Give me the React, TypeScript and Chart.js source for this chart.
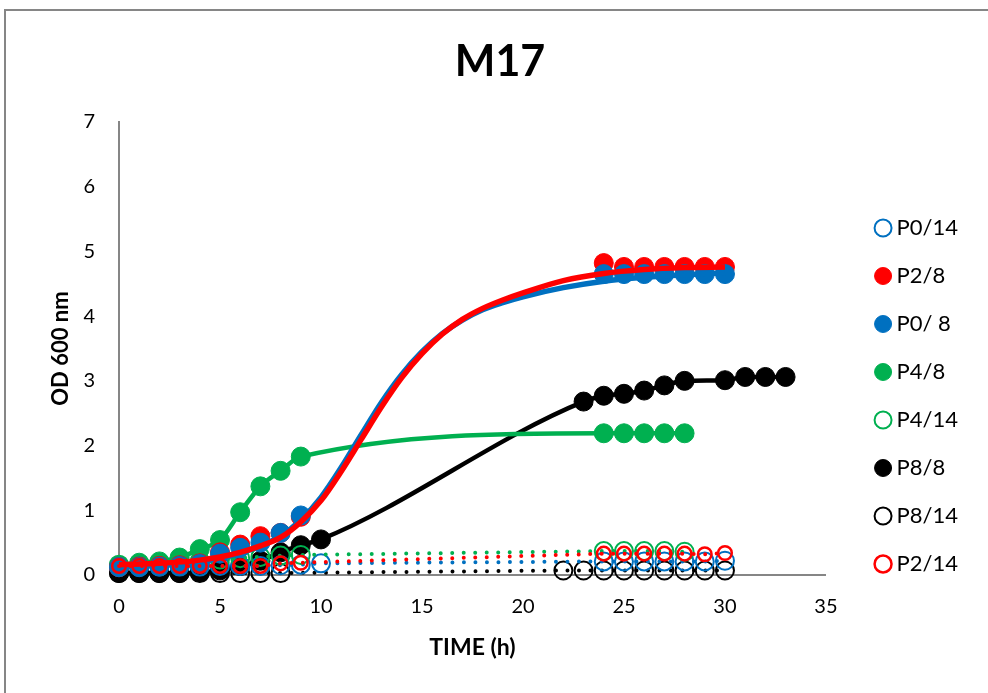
import React, { useEffect, useRef } from "react";
import { Chart, registerables } from "chart.js";

Chart.register(...registerables);

const FONT = "Lato, 'Open Sans', sans-serif";

// ---- Data (time in h, OD 600 nm) ----
const P0_14_TIME = [0, 1, 2, 3, 4, 5, 6, 7, 8, 9, 10, 24, 25, 26, 27, 28, 29, 30];
const P0_14_OD = [0.13, 0.13, 0.13, 0.13, 0.13, 0.14, 0.14, 0.14, 0.15, 0.16, 0.18, 0.21, 0.21, 0.21, 0.21, 0.21, 0.21, 0.22];

const P2_8_TIME = [0, 1, 2, 3, 4, 5, 6, 7, 8, 9, 24, 25, 26, 27, 28, 29, 30];
const P2_8_OD = [0.12, 0.13, 0.14, 0.15, 0.18, 0.35, 0.47, 0.6, 0.65, 0.9, 4.82, 4.76, 4.76, 4.76, 4.76, 4.76, 4.76];

const P0_8_TIME = [0, 1, 2, 3, 4, 5, 6, 7, 8, 9, 24, 25, 26, 27, 28, 29, 30];
const P0_8_OD = [0.12, 0.12, 0.13, 0.14, 0.17, 0.33, 0.42, 0.5, 0.65, 0.92, 4.65, 4.65, 4.65, 4.65, 4.65, 4.65, 4.65];

const P4_8_TIME = [0, 1, 2, 3, 4, 5, 6, 7, 8, 9, 24, 25, 26, 27, 28];
const P4_8_OD = [0.14, 0.19, 0.21, 0.27, 0.4, 0.54, 0.97, 1.37, 1.61, 1.83, 2.19, 2.19, 2.19, 2.19, 2.19];

const P4_14_TIME = [0, 1, 2, 3, 4, 5, 6, 7, 8, 9, 24, 25, 26, 27, 28];
const P4_14_OD = [0.16, 0.17, 0.18, 0.2, 0.22, 0.24, 0.26, 0.28, 0.3, 0.31, 0.37, 0.37, 0.37, 0.37, 0.36];

const P8_8_TIME = [0, 1, 2, 3, 4, 5, 6, 7, 8, 9, 10, 23, 24, 25, 26, 27, 28, 30, 31, 32, 33];
const P8_8_OD = [0.03, 0.03, 0.03, 0.03, 0.04, 0.07, 0.14, 0.22, 0.35, 0.46, 0.55, 2.68, 2.77, 2.8, 2.85, 2.93, 3.0, 3.01, 3.06, 3.06, 3.06];

const P8_14_TIME = [0, 1, 2, 3, 4, 5, 6, 7, 8, 22, 23, 24, 25, 26, 27, 28, 29, 30];
const P8_14_OD = [0.03, 0.03, 0.03, 0.03, 0.03, 0.03, 0.03, 0.03, 0.03, 0.07, 0.07, 0.07, 0.07, 0.07, 0.07, 0.07, 0.07, 0.07];

const P2_14_TIME = [0, 1, 2, 3, 4, 5, 6, 7, 8, 9, 24, 25, 26, 27, 28, 29, 30];
const P2_14_OD = [0.14, 0.14, 0.14, 0.14, 0.14, 0.14, 0.14, 0.14, 0.18, 0.19, 0.33, 0.33, 0.33, 0.33, 0.33, 0.32, 0.34];

// Fitted growth curves
const FIT_TIME = [0, 2, 4, 5, 6, 7, 8, 9, 10, 11, 12, 13, 14, 15, 16, 17, 18, 19, 20, 22, 24, 26, 28, 30];
const P2_8_FIT = [0.16, 0.18, 0.23, 0.28, 0.35, 0.45, 0.58, 0.82, 1.15, 1.6, 2.1, 2.6, 3.05, 3.42, 3.72, 3.95, 4.12, 4.25, 4.36, 4.55, 4.66, 4.72, 4.75, 4.76];
const P0_8_FIT = [0.13, 0.15, 0.2, 0.26, 0.34, 0.45, 0.6, 0.85, 1.2, 1.66, 2.17, 2.67, 3.1, 3.45, 3.73, 3.94, 4.1, 4.21, 4.3, 4.44, 4.54, 4.6, 4.64, 4.67];

const X_TICKS = [0, 5, 10, 15, 20, 25, 30, 35];
const Y_TICKS = [0, 1, 2, 3, 4, 5, 6, 7];

const RED = "#FF0000";
const BLUE = "#0070C0";
const GREEN = "#00B050";
const BLACK = "#000000";
const CLEAR = "rgba(0,0,0,0)";

const zip = (t: number[], v: number[]) => t.map((x, i) => ({ x, y: v[i] }));

const openSeries = (label: string, t: number[], v: number[], color: string, r: number, bw: number, order: number) => ({
  label,
  data: zip(t, v),
  order,
  yAxisID: "y",
  clip: false as const,
  showLine: true,
  borderColor: color,
  borderWidth: 4,
  borderDash: [0, 11.5],
  borderCapStyle: "round" as const,
  pointStyle: "circle" as const,
  pointRadius: r,
  pointBorderWidth: bw,
  pointBorderColor: color,
  pointBackgroundColor: CLEAR,
  backgroundColor: CLEAR,
});

const filledSeries = (label: string, t: number[], v: number[], color: string, order: number, line: number) => ({
  label,
  data: zip(t, v),
  order,
  yAxisID: "y",
  clip: false as const,
  showLine: line > 0,
  borderColor: color,
  borderWidth: line,
  cubicInterpolationMode: "monotone" as const,
  pointStyle: "circle" as const,
  pointRadius: 9.5,
  pointBorderWidth: 1,
  pointBorderColor: color,
  pointBackgroundColor: color,
  backgroundColor: color,
});

const fitSeries = (t: number[], v: number[], color: string, order: number) => ({
  label: "",
  data: zip(t, v),
  order,
  yAxisID: "y",
  clip: false as const,
  showLine: true,
  borderColor: color,
  borderWidth: 5.5,
  cubicInterpolationMode: "monotone" as const,
  pointRadius: 0,
  pointHoverRadius: 0,
  backgroundColor: color,
});

const Y_AXIS_WIDTH = 87;
const X_AXIS_HEIGHT = 118;
const Y2_WIDTH = 28.6;

export default function App() {
  const ref = useRef<HTMLCanvasElement>(null);

  useEffect(() => {
    if (!ref.current) return;
    const datasets: any[] = [
      openSeries("P0/14", P0_14_TIME, P0_14_OD, BLUE, 9, 2, 7),
      filledSeries("P2/8", P2_8_TIME, P2_8_OD, RED, 5, 0),
      filledSeries("P0/ 8", P0_8_TIME, P0_8_OD, BLUE, 4, 0),
      filledSeries("P4/8", P4_8_TIME, P4_8_OD, GREEN, 8, 4.5),
      openSeries("P4/14", P4_14_TIME, P4_14_OD, GREEN, 9, 2, 6),
      filledSeries("P8/8", P8_8_TIME, P8_8_OD, BLACK, 9, 4.5),
      openSeries("P8/14", P8_14_TIME, P8_14_OD, BLACK, 9, 2, 10),
      openSeries("P2/14", P2_14_TIME, P2_14_OD, RED, 6.8, 2.5, 1),
      fitSeries(FIT_TIME, P2_8_FIT, RED, 2),
      fitSeries(FIT_TIME, P0_8_FIT, BLUE, 3),
    ];
    const chart = new Chart(ref.current, {
      type: "line",
      data: { datasets },
      options: {
        animation: false,
        responsive: false,
        maintainAspectRatio: false,
        devicePixelRatio: 1,
        layout: { padding: { left: 32, right: 20, top: 0, bottom: 0 } },
        plugins: {
          tooltip: { enabled: false },
          title: {
            display: true,
            text: "M17",
            color: "#000",
            font: { family: FONT, size: 43, weight: "bold" },
            padding: { top: 36, bottom: 34.4 },
          },
          legend: {
            display: true,
            position: "right",
            align: "center",
            title: { display: true, text: " ", font: { size: 10 }, padding: { top: 87, bottom: 0 } },
            labels: {
              usePointStyle: true,
              boxWidth: 5,
              boxHeight: 12,
              padding: 26,
              color: "#000",
              font: { family: FONT, size: 22 },
              filter: (item: any) => item.datasetIndex < 8,
              sort: (a: any, b: any) => a.datasetIndex - b.datasetIndex,
            },
          },
        },
        scales: {
          x: {
            type: "linear",
            min: 0,
            max: 35,
            afterBuildTicks: (s: any) => {
              s.ticks = X_TICKS.map((value) => ({ value }));
            },
            afterFit: (s: any) => {
              s.height = X_AXIS_HEIGHT;
            },
            grid: { display: false, drawTicks: false },
            border: { display: true, color: "#868686", width: 2 },
            ticks: { color: "#000", padding: 20, font: { family: FONT, size: 20 } },
            title: {
              display: true,
              text: "TIME (h)",
              color: "#000",
              font: { family: FONT, size: 23, weight: "bold" },
              padding: { top: 16, bottom: 32 },
            },
          },
          y: {
            type: "linear",
            min: 0,
            max: 7,
            afterBuildTicks: (s: any) => {
              s.ticks = Y_TICKS.map((value) => ({ value }));
            },
            afterFit: (s: any) => {
              s.width = Y_AXIS_WIDTH;
            },
            grid: { display: false, drawTicks: false },
            border: { display: true, color: "#868686", width: 2 },
            ticks: { color: "#000", padding: 24, font: { family: FONT, size: 20 } },
            title: {
              display: true,
              text: "OD 600 nm",
              color: "#000",
              font: { family: FONT, size: 22, weight: "bold" },
              padding: { top: 16, bottom: 8 },
            },
          },
          y2: {
            type: "linear",
            position: "right",
            display: true,
            grid: { display: false, drawTicks: false },
            border: { display: false },
            ticks: { display: false },
            afterFit: (s: any) => {
              s.width = Y2_WIDTH;
            },
          },
        },
      } as any,
    });
    return () => chart.destroy();
  }, []);

  return (
    <div style={{ position: "fixed", left: 0, top: 0, width: 988, height: 693, background: "#fff", overflow: "hidden" }}>
      <canvas ref={ref} width={988} height={693} style={{ position: "absolute", left: 0, top: 0, width: 988, height: 693 }} />
      <div
        style={{
          position: "absolute",
          left: 4,
          top: 9,
          width: 984,
          height: 684,
          borderTop: "2px solid #868686",
          borderLeft: "2px solid #868686",
          boxSizing: "border-box",
          pointerEvents: "none",
        }}
      />
    </div>
  );
}
